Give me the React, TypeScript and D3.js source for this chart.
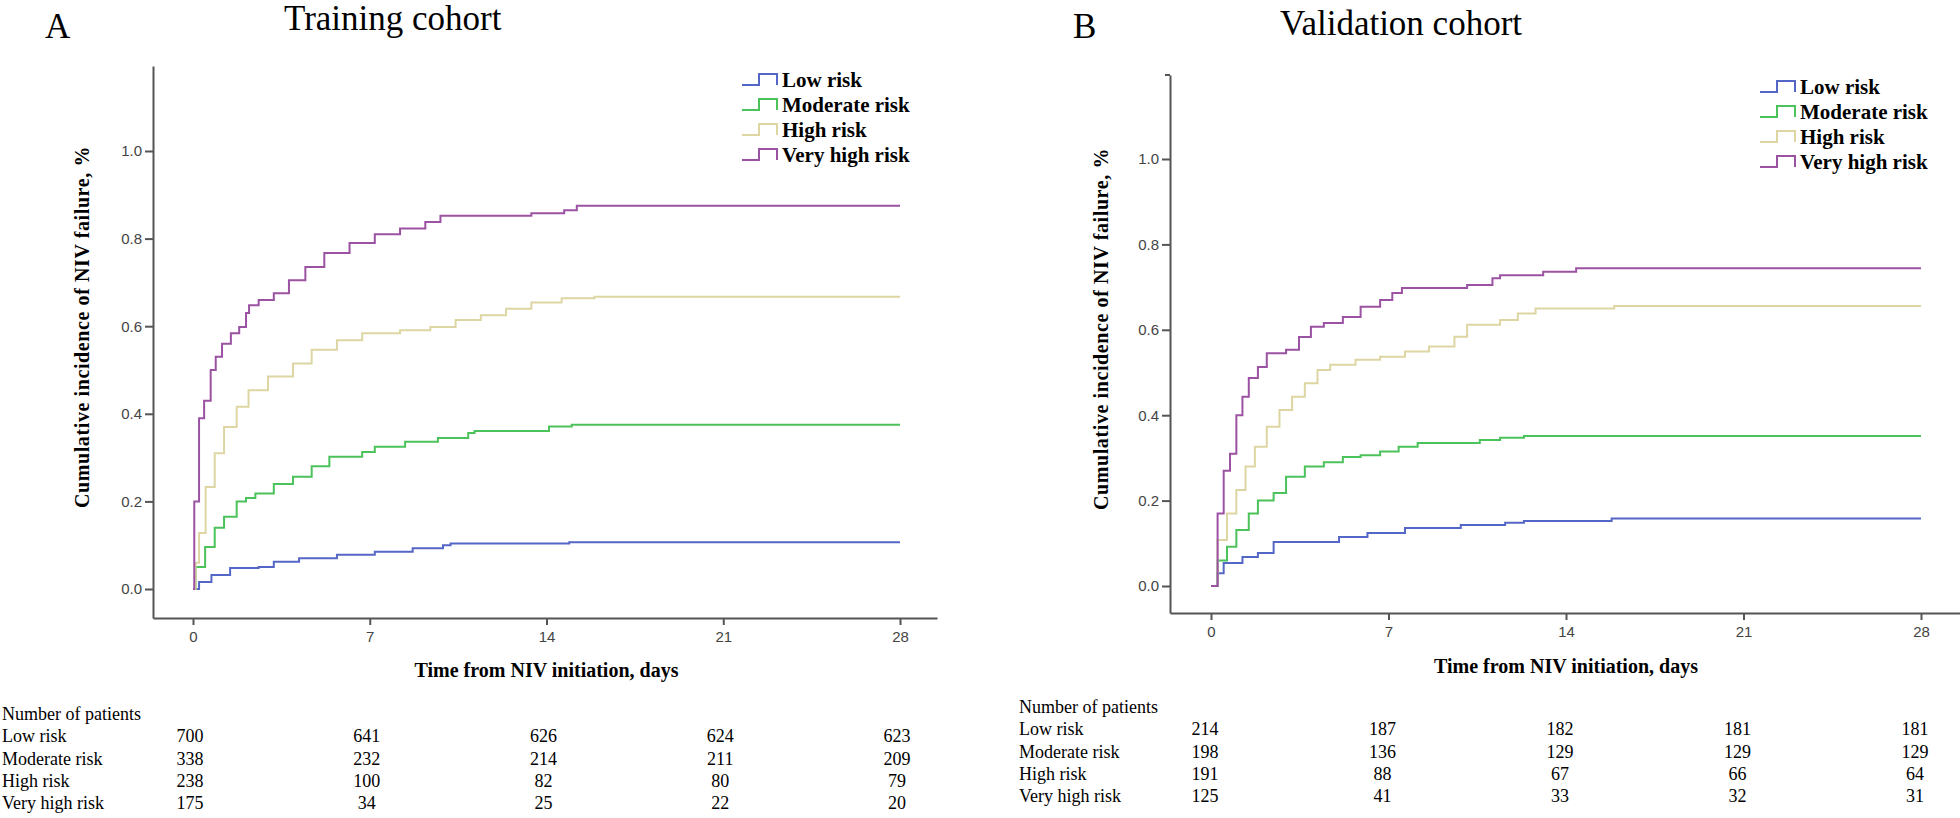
import React, { useEffect, useRef } from "react";
import * as d3 from "d3";

type Pt = [number, number];

// shared axis values and groups
const timeTicks = [0, 7, 14, 21, 28];
const incidenceTicks = [0, 0.2, 0.4, 0.6, 0.8, 1.0];
const riskGroups = ["Low risk", "Moderate risk", "High risk", "Very high risk"];
const riskColors = ["#5567c6", "#4cc25b", "#ddd6a3", "#9c52a3"];

// Training cohort curves: [day, cumulative incidence]
const trainLow: Pt[] = [[0, 0], [0.24, 0.016], [0.73, 0.032], [1.47, 0.048], [2.6, 0.05], [3.2, 0.062], [4.2, 0.07], [5.7, 0.078], [7.2, 0.085], [8.7, 0.093], [9.9, 0.1], [10.2, 0.104], [14.9, 0.107], [28, 0.107]];
const trainModerate: Pt[] = [[0, 0], [0.1, 0.05], [0.48, 0.096], [0.86, 0.14], [1.23, 0.165], [1.73, 0.2], [2.1, 0.208], [2.47, 0.218], [3.2, 0.24], [3.96, 0.256], [4.7, 0.28], [5.4, 0.302], [6.7, 0.313], [7.2, 0.325], [8.4, 0.336], [9.7, 0.345], [10.9, 0.356], [11.15, 0.361], [14.1, 0.371], [15.0, 0.375], [28, 0.375]];
const trainHigh: Pt[] = [[0, 0], [0.1, 0.06], [0.24, 0.128], [0.5, 0.233], [0.86, 0.31], [1.23, 0.37], [1.73, 0.416], [2.2, 0.454], [2.97, 0.485], [3.96, 0.515], [4.7, 0.546], [5.7, 0.568], [6.7, 0.584], [8.2, 0.591], [9.4, 0.598], [10.4, 0.614], [11.4, 0.625], [12.4, 0.64], [13.4, 0.654], [14.6, 0.664], [15.9, 0.667], [28, 0.667]];
const trainVeryHigh: Pt[] = [[0, 0], [0.05, 0.2], [0.24, 0.39], [0.44, 0.43], [0.7, 0.5], [0.9, 0.53], [1.15, 0.56], [1.5, 0.584], [1.83, 0.598], [2.1, 0.63], [2.22, 0.648], [2.6, 0.66], [3.2, 0.675], [3.8, 0.705], [4.45, 0.735], [5.2, 0.767], [6.2, 0.79], [7.2, 0.81], [8.2, 0.823], [9.2, 0.838], [9.8, 0.852], [13.4, 0.858], [14.7, 0.865], [15.2, 0.875], [28, 0.875]];

// Validation cohort curves
const valLow: Pt[] = [[0, 0], [0.26, 0.03], [0.5, 0.054], [1.24, 0.068], [1.85, 0.077], [2.47, 0.103], [5.05, 0.115], [6.17, 0.124], [7.65, 0.136], [9.85, 0.143], [11.6, 0.148], [12.34, 0.152], [15.8, 0.158], [28, 0.158]];
const valModerate: Pt[] = [[0, 0], [0.26, 0.06], [0.63, 0.092], [1.0, 0.131], [1.49, 0.17], [1.85, 0.2], [2.47, 0.218], [2.96, 0.256], [3.7, 0.28], [4.45, 0.29], [5.2, 0.302], [5.9, 0.306], [6.67, 0.315], [7.4, 0.326], [8.15, 0.335], [10.6, 0.342], [11.4, 0.347], [12.34, 0.351], [28, 0.351]];
const valHigh: Pt[] = [[0, 0], [0.26, 0.108], [0.63, 0.17], [1.0, 0.225], [1.36, 0.28], [1.73, 0.326], [2.2, 0.373], [2.7, 0.412], [3.2, 0.443], [3.7, 0.475], [4.2, 0.506], [4.7, 0.518], [5.7, 0.53], [6.67, 0.537], [7.65, 0.549], [8.6, 0.561], [9.6, 0.584], [10.1, 0.612], [11.4, 0.623], [12.1, 0.638], [12.8, 0.65], [15.9, 0.656], [28, 0.656]];
const valVeryHigh: Pt[] = [[0, 0], [0.26, 0.17], [0.5, 0.27], [0.75, 0.31], [1.0, 0.4], [1.24, 0.443], [1.49, 0.487], [1.85, 0.513], [2.2, 0.545], [2.96, 0.553], [3.47, 0.583], [3.94, 0.607], [4.45, 0.616], [5.2, 0.63], [5.9, 0.654], [6.67, 0.67], [7.15, 0.686], [7.53, 0.698], [10.1, 0.705], [11.1, 0.721], [11.4, 0.728], [13.1, 0.736], [14.4, 0.744], [28, 0.744]];

// Number of patients at risk at each time tick
const trainAtRisk = [[700, 641, 626, 624, 623], [338, 232, 214, 211, 209], [238, 100, 82, 80, 79], [175, 34, 25, 22, 20]];
const valAtRisk = [[214, 187, 182, 181, 181], [198, 136, 129, 129, 129], [191, 88, 67, 66, 64], [125, 41, 33, 32, 31]];

const SERIF = '"Liberation Serif", "Times New Roman", serif';
const SANS = '"Liberation Sans", Arial, sans-serif';

const panels = [
  {
    letter: "A", letterX: 45, title: "Training cohort", titleX: 284, titleY: 30,
    axisLeft: 153, axisTop: 66, axisBottom: 618, axisRight: 937,
    x0: 193, x28: 900, yZero: 589, yOne: 151,
    legendX: 742, legendY: 87, yTitleX: 82, yTitleY: 327, xTitleY: 677,
    tableX: 2, tableY: 720, tableDx: -3, topTick: false,
    curves: [trainLow, trainModerate, trainHigh, trainVeryHigh], atRisk: trainAtRisk,
  },
  {
    letter: "B", letterX: 1073, title: "Validation cohort", titleX: 1280, titleY: 35,
    axisLeft: 1170, axisTop: 75, axisBottom: 613, axisRight: 1960,
    x0: 1211, x28: 1921, yZero: 586, yOne: 159,
    legendX: 1760, legendY: 94, yTitleX: 1101, yTitleY: 329, xTitleY: 673,
    tableX: 1019, tableY: 713, tableDx: -6, topTick: true,
    curves: [valLow, valModerate, valHigh, valVeryHigh], atRisk: valAtRisk,
  },
];

function drawPanel(svg: any, p: any) {
  const g = svg.append("g");

  // panel letter and title
  g.append("text").attr("x", p.letterX).attr("y", 38).attr("font-family", SERIF)
    .attr("font-size", 35).text(p.letter);
  g.append("text").attr("x", p.titleX).attr("y", p.titleY).attr("font-family", SERIF)
    .attr("font-size", 35).text(p.title);

  // scales, extended so the axis lines reach the frame corners
  const x0 = d3.scaleLinear().domain([0, 28]).range([p.x0, p.x28]);
  const y0 = d3.scaleLinear().domain([0, 1]).range([p.yZero, p.yOne]);
  const x = d3.scaleLinear().domain([x0.invert(p.axisLeft), x0.invert(p.axisRight)]).range([p.axisLeft, p.axisRight]);
  const y = d3.scaleLinear().domain([y0.invert(p.axisBottom), y0.invert(p.axisTop)]).range([p.axisBottom, p.axisTop]);

  const yAxis = g.append("g").attr("transform", `translate(${p.axisLeft},0)`)
    .call(d3.axisLeft(y).tickValues(incidenceTicks).tickSize(8).tickSizeOuter(0).tickPadding(3).tickFormat(d3.format(".1f")));
  const xAxis = g.append("g").attr("transform", `translate(0,${p.axisBottom})`)
    .call(d3.axisBottom(x).tickValues(timeTicks).tickSize(7).tickSizeOuter(0).tickPadding(6).tickFormat(d3.format("d")));

  [yAxis, xAxis].forEach((a) => {
    a.selectAll("path, line").attr("stroke", "#555").attr("stroke-width", 2);
    a.selectAll("text").attr("font-family", SANS).attr("font-size", 15).attr("fill", "#444");
  });

  if (p.topTick) {
    g.append("line").attr("x1", p.axisLeft - 5).attr("x2", p.axisLeft)
      .attr("y1", p.axisTop).attr("y2", p.axisTop).attr("stroke", "#555").attr("stroke-width", 2);
  }

  // axis titles
  g.append("text").attr("transform", `translate(${p.yTitleX},${p.yTitleY}) rotate(-90)`)
    .attr("text-anchor", "middle").attr("dominant-baseline", "central")
    .attr("font-family", SERIF).attr("font-weight", "bold").attr("font-size", 20)
    .attr("letter-spacing", 0.6).text("Cumulative incidence of NIV failure, %");
  g.append("text").attr("x", x(14)).attr("y", p.xTitleY).attr("text-anchor", "middle")
    .attr("font-family", SERIF).attr("font-weight", "bold").attr("font-size", 20)
    .text("Time from NIV initiation, days");

  // step curves
  const line = d3.line<Pt>().x((d) => x(d[0])).y((d) => y(d[1])).curve(d3.curveStepAfter);
  p.curves.forEach((c: Pt[], i: number) => {
    g.append("path").datum(c).attr("d", line).attr("fill", "none")
      .attr("stroke", riskColors[i]).attr("stroke-width", 2);
  });

  // legend
  riskGroups.forEach((name, i) => {
    const by = p.legendY + i * 25;
    const lx = p.legendX;
    g.append("path").attr("d", `M${lx},${by - 2}H${lx + 17}V${by - 13}H${lx + 35}V${by - 2}`)
      .attr("fill", "none").attr("stroke", riskColors[i]).attr("stroke-width", 2);
    g.append("text").attr("x", lx + 40).attr("y", by).attr("font-family", SERIF)
      .attr("font-weight", "bold").attr("font-size", 21).text(name);
  });

  // number at risk table
  const rowH = 22.3;
  g.append("text").attr("x", p.tableX).attr("y", p.tableY).attr("font-family", SERIF)
    .attr("font-size", 18).text("Number of patients");
  riskGroups.forEach((name, i) => {
    const ry = p.tableY + rowH * (i + 1);
    g.append("text").attr("x", p.tableX).attr("y", ry).attr("font-family", SERIF)
      .attr("font-size", 18).text(name);
    p.atRisk[i].forEach((n: number, j: number) => {
      g.append("text").attr("x", x(timeTicks[j]) + p.tableDx).attr("y", ry)
        .attr("text-anchor", "middle").attr("font-family", SERIF).attr("font-size", 18).text(n);
    });
  });
}

export default function App() {
  const ref = useRef<SVGSVGElement>(null);

  useEffect(() => {
    const svg = d3.select(ref.current);
    svg.selectAll("*").remove();
    panels.forEach((p) => drawPanel(svg, p));
  }, []);

  return (
    <svg
      ref={ref}
      width={1960}
      height={818}
      style={{ position: "absolute", left: 0, top: 0, background: "#fff" }}
    />
  );
}
